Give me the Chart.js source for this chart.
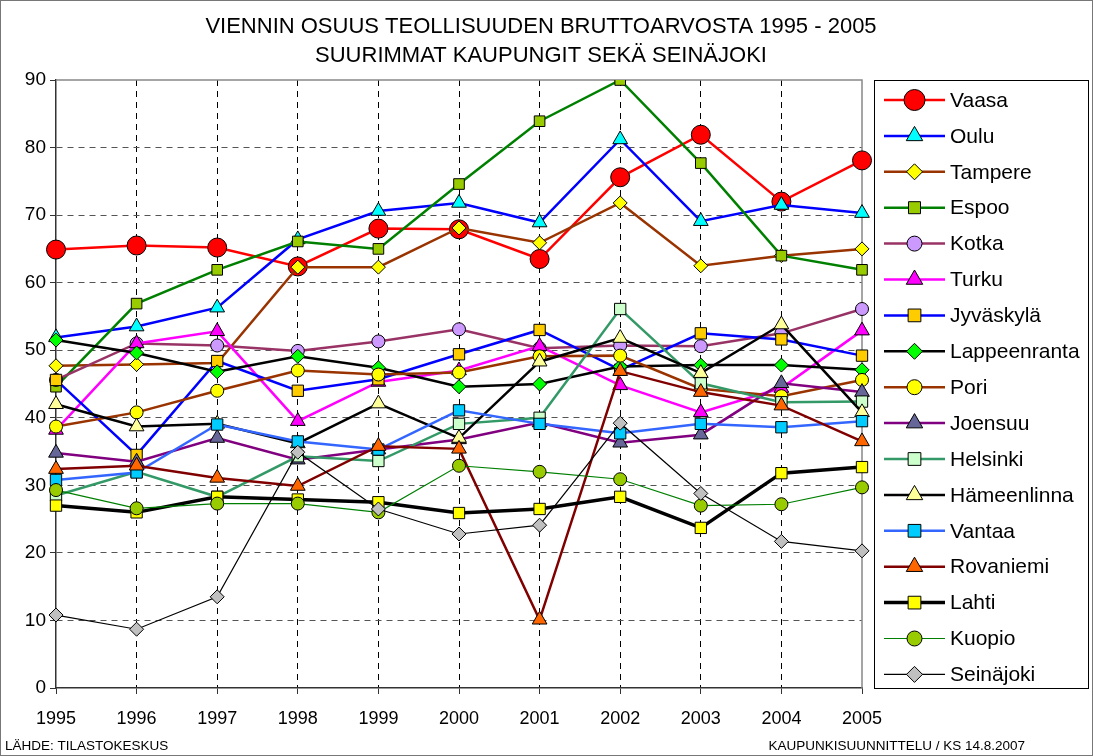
<!DOCTYPE html>
<html><head><meta charset="utf-8">
<script src="https://cdn.jsdelivr.net/npm/chart.js@4/dist/chart.umd.min.js"></script>
<style>html,body{margin:0;padding:0;background:#fff;} #wrap{width:1093px;height:756px;position:relative;}</style>
</head><body><div id="wrap"><canvas id="c" width="1093" height="756"></canvas></div>
<script>
const titleLines = ['VIENNIN OSUUS TEOLLISUUDEN BRUTTOARVOSTA 1995 - 2005', 'SUURIMMAT KAUPUNGIT SEKÄ SEINÄJOKI'];
const footerLeft = 'LÄHDE: TILASTOKESKUS';
const footerRight = 'KAUPUNKISUUNNITTELU / KS 14.8.2007';
const years = ['1995','1996','1997','1998','1999','2000','2001','2002','2003','2004','2005'];
const seriesNames = ['Vaasa','Oulu','Tampere','Espoo','Kotka','Turku','Jyväskylä','Lappeenranta','Pori','Joensuu','Helsinki','Hämeenlinna','Vantaa','Rovaniemi','Lahti','Kuopio','Seinäjoki'];
const vaasa        = [64.9, 65.5, 65.2, 62.4, 68.0, 67.9, 63.5, 75.6, 81.9, 72.0, 78.1];
const oulu         = [51.9, 53.5, 56.3, 66.4, 70.6, 71.8, 68.9, 81.2, 69.1, 71.5, 70.3];
const tampere      = [47.7, 47.9, 48.1, 62.3, 62.3, 68.1, 65.9, 71.8, 62.5, 64.0, 65.0];
const espoo        = [44.6, 56.9, 61.9, 66.1, 65.0, 74.6, 83.9, 90.0, 77.7, 64.0, 61.9];
const kotka        = [45.6, 51.0, 50.7, 49.9, 51.3, 53.1, 50.3, 50.7, 50.6, 52.5, 56.1];
const turku        = [38.2, 51.0, 52.8, 39.5, 45.3, 47.0, 50.6, 44.8, 40.8, 44.4, 52.9];
const jyvaskyla    = [45.6, 34.5, 48.4, 44.0, 45.7, 49.4, 53.0, 47.1, 52.5, 51.6, 49.2];
const lappeenranta = [51.5, 49.6, 46.8, 49.1, 47.4, 44.6, 45.0, 47.6, 47.8, 47.8, 47.1];
const pori         = [38.7, 40.8, 44.0, 47.0, 46.4, 46.7, 49.1, 49.2, 44.3, 43.2, 45.6];
const joensuu      = [34.8, 33.5, 37.0, 33.8, 35.3, 36.8, 39.3, 36.3, 37.5, 45.1, 43.8];
const helsinki     = [28.5, 32.0, 28.3, 34.3, 33.6, 39.1, 40.0, 56.1, 45.1, 42.3, 42.4];
const hameenlinna  = [42.0, 38.7, 39.1, 36.2, 42.1, 37.0, 48.3, 51.8, 46.6, 53.8, 40.8];
const vantaa       = [30.8, 31.9, 39.0, 36.5, 35.3, 41.1, 39.1, 37.7, 39.1, 38.6, 39.5];
const rovaniemi    = [32.4, 32.9, 31.1, 29.9, 35.8, 35.4, 10.1, 46.9, 43.8, 41.8, 36.5];
const lahti        = [27.0, 26.0, 28.3, 27.9, 27.5, 25.9, 26.5, 28.3, 23.7, 31.8, 32.7];
const kuopio       = [29.3, 26.6, 27.3, 27.3, 26.0, 32.9, 32.0, 30.9, 27.0, 27.2, 29.7];
const seinajoki    = [10.8,  8.7, 13.5, 34.9, 26.5, 22.8, 24.1, 39.2, 28.8, 21.7, 20.3];
const seriesValues = [vaasa, oulu, tampere, espoo, kotka, turku, jyvaskyla, lappeenranta, pori, joensuu, helsinki, hameenlinna, vantaa, rovaniemi, lahti, kuopio, seinajoki];

// styles: [lineColor, lineWidth, markerShape, markerFill, markerRadius]
const styles = [
  ['#FF0000', 2.5, 'circle',   '#FF0000', 9.5],
  ['#0000FF', 2.5, 'triangle', '#00FFFF', 8.5],
  ['#993300', 2.5, 'rectRot',  '#FFFF00', 7],
  ['#008000', 2.5, 'rect',     '#99CC00', 7.5],
  ['#993366', 2.5, 'circle',   '#CC99FF', 6.5],
  ['#FF00FF', 2.5, 'triangle', '#FF00FF', 8.5],
  ['#0000FF', 2.5, 'rect',     '#FFCC00', 8],
  ['#000000', 2.5, 'rectRot',  '#00FF00', 7],
  ['#993300', 2.5, 'circle',   '#FFFF00', 6.5],
  ['#800080', 2.5, 'triangle', '#666699', 8.5],
  ['#339966', 2.5, 'rect',     '#CCFFCC', 8],
  ['#000000', 2.5, 'triangle', '#FFFF99', 8.5],
  ['#3366FF', 2.5, 'rect',     '#00CCFF', 8],
  ['#800000', 2.5, 'triangle', '#FF6600', 8.5],
  ['#000000', 3.5, 'rect',     '#FFFF00', 8],
  ['#008000', 1.2, 'circle',   '#99CC00', 6.5],
  ['#000000', 1.2, 'rectRot',  '#C0C0C0', 7]
];

const datasets = seriesNames.map((n, i) => ({
  label: n,
  data: seriesValues[i],
  borderColor: styles[i][0],
  borderWidth: styles[i][1],
  pointStyle: styles[i][2],
  pointBackgroundColor: styles[i][3],
  pointBorderColor: '#000000',
  pointBorderWidth: 1,
  pointRadius: styles[i][4],
  pointHoverRadius: styles[i][4],
  tension: 0,
  fill: false,
  order: 100 - i
}));

function drawMarker(ctx, shape, x, y, r, fill) {
  ctx.save();
  ctx.fillStyle = fill; ctx.strokeStyle = '#000'; ctx.lineWidth = 1;
  if (Chart.helpers && Chart.helpers.drawPoint) {
    Chart.helpers.drawPoint(ctx, {pointStyle: shape, radius: r, borderWidth: 1, rotation: 0}, x, y);
  } else {
    ctx.beginPath();
    if (shape === 'circle') ctx.arc(x, y, r, 0, Math.PI*2);
    else if (shape === 'rect') { const s = r*Math.SQRT1_2; ctx.rect(x-s, y-s, 2*s, 2*s); }
    else if (shape === 'rectRot') { ctx.moveTo(x-r,y); ctx.lineTo(x,y-r); ctx.lineTo(x+r,y); ctx.lineTo(x,y+r); ctx.closePath(); }
    else { ctx.moveTo(x, y-r); ctx.lineTo(x+r*0.866, y+r*0.5); ctx.lineTo(x-r*0.866, y+r*0.5); ctx.closePath(); }
    ctx.fill(); ctx.stroke();
  }
  ctx.restore();
}

const decor = {
  id: 'decor',
  beforeDatasetsDraw(chart) {
    const {ctx, chartArea: a} = chart;
    ctx.save();
    ctx.strokeStyle = '#888888'; ctx.lineWidth = 1.5;
    ctx.beginPath();
    ctx.moveTo(a.left, a.top); ctx.lineTo(a.right, a.top); ctx.lineTo(a.right, a.bottom);
    ctx.stroke();
    ctx.restore();
  },
  afterDraw(chart) {
    const {ctx} = chart;
    ctx.save();
    ctx.fillStyle = '#000';
    ctx.textAlign = 'center'; ctx.textBaseline = 'middle';
    ctx.font = '22px "Liberation Sans", Arial, sans-serif';
    ctx.fillText(titleLines[0], 541, 27);
    ctx.fillText(titleLines[1], 541, 56);
    // legend
    ctx.strokeStyle = '#000'; ctx.lineWidth = 1;
    ctx.strokeRect(874.5, 80.5, 214, 608);
    ctx.textAlign = 'left';
    ctx.font = '21px "Liberation Sans", Arial, sans-serif';
    chart.data.datasets.forEach((ds, i) => {
      const y = 100 + i * 35.9;
      ctx.save();
      ctx.strokeStyle = ds.borderColor; ctx.lineWidth = ds.borderWidth;
      ctx.beginPath(); ctx.moveTo(884, y); ctx.lineTo(945, y); ctx.stroke();
      ctx.restore();
      drawMarker(ctx, ds.pointStyle, 914.5, y, ds.pointRadius + 1, ds.pointBackgroundColor);
      ctx.fillStyle = '#000';
      ctx.fillText(ds.label, 950, y + 1);
    });
    // footer
    ctx.font = '13.5px "Liberation Sans", Arial, sans-serif';
    ctx.textAlign = 'left';
    ctx.fillText(footerLeft, 5, 746);
    ctx.textAlign = 'right';
    ctx.fillText(footerRight, 1025, 746);
    // outer border
    ctx.strokeStyle = '#777'; ctx.lineWidth = 1;
    ctx.strokeRect(0.5, 0.5, 1092, 755);
    ctx.restore();
  }
};

new Chart(document.getElementById('c'), {
  type: 'line',
  data: { labels: years, datasets },
  plugins: [decor],
  options: {
    responsive: false,
    animation: false,
    devicePixelRatio: 1,
    layout: { padding: { left: 0, top: 80, right: 231, bottom: 24 } },
    plugins: { legend: { display: false }, title: { display: false }, tooltip: { enabled: false } },
    scales: {
      x: {
        offset: false,
        afterFit(s) { s.height = 44; },
        grid: {
          color: ctx => (ctx.index === 0 || ctx.index === years.length - 1) ? 'rgba(0,0,0,0)' : '#000000',
          lineWidth: 1,
          drawTicks: true, tickLength: 6, tickColor: '#333', tickBorderDash: []
        },
        border: { display: true, color: '#333333', width: 1.5, dash: [6, 5] },
        ticks: { color: '#000', font: { size: 18, family: '"Liberation Sans", Arial, sans-serif' }, padding: 14, maxRotation: 0, autoSkip: false }
      },
      y: {
        min: 0, max: 90,
        afterFit(s) { s.width = 56; },
        grid: {
          color: ctx => (ctx.tick && (ctx.tick.value === 0 || ctx.tick.value === 90)) ? 'rgba(0,0,0,0)' : '#555555',
          lineWidth: 1,
          drawTicks: true, tickLength: 6, tickColor: '#333', tickBorderDash: []
        },
        border: { display: true, color: '#333333', width: 1.5, dash: [6, 5] },
        ticks: { stepSize: 10, color: '#000', font: { size: 19, family: '"Liberation Sans", Arial, sans-serif' }, padding: 4 }
      }
    }
  }
});
</script></body></html>
